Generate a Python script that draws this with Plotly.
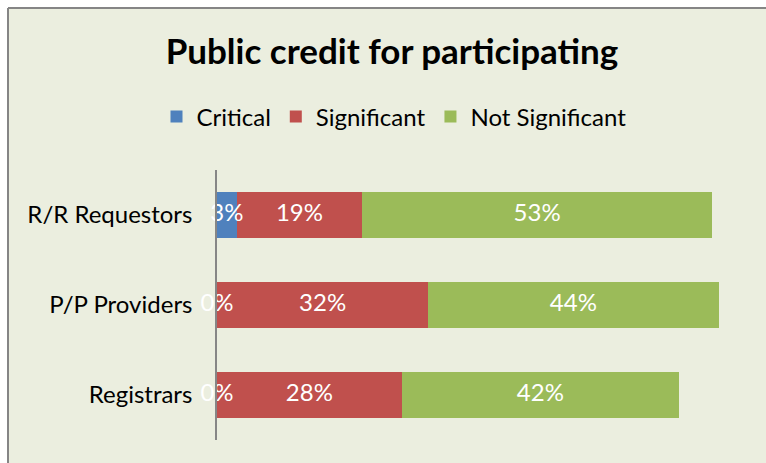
import plotly.graph_objects as go

categories = ["R/R Requestors", "P/P Providers", "Registrars"]
series_names = ["Critical", "Significant", "Not Significant"]
critical = [3, 0, 0]
significant = [19, 32, 28]
not_significant = [53, 44, 42]
colors = ["#4F81BD", "#C0504D", "#9BBB59"]

FONT = "Lato, Carlito, Calibri, sans-serif"
series_vals = [critical, significant, not_significant]

fig = go.Figure()
for name, vals, col in zip(series_names, series_vals, colors):
    fig.add_trace(go.Bar(
        name=name, y=categories, x=vals, orientation="h",
        marker=dict(color=col, line=dict(width=0)),
        hoverinfo="x+name",
    ))

# data labels centred in each segment
lx, ly, lt = [], [], []
for i, cat in enumerate(categories):
    start = 0
    for vals in series_vals:
        v = vals[i]
        lx.append(start + v / 2)
        ly.append(cat)
        lt.append(f"{v}%")
        start += v
fig.add_trace(go.Scatter(
    x=lx, y=ly, text=lt, mode="text", showlegend=False, cliponaxis=False,
    textfont=dict(family=FONT, size=24, color="white"),
    hoverinfo="skip",
))

# paper coordinate helpers for the chart frame
L, R, T, B = 217, 745, 170, 440
W, H = 766, 463
def px(x):
    return (x - L) / (R - L)
def py(y):
    return (B - y) / (B - T)

fig.add_shape(type="rect", xref="paper", yref="paper",
              x0=px(8), x1=px(W), y0=py(H), y1=py(8),
              fillcolor="#EBEEDF", line=dict(width=0),
              layer="below")
fig.add_shape(type="line", xref="paper", yref="paper",
              x0=px(8), x1=px(8), y0=py(H), y1=py(8),
              line=dict(color="#858585", width=2), layer="below")
fig.add_shape(type="line", xref="paper", yref="paper",
              x0=px(8), x1=px(W), y0=py(8), y1=py(8),
              line=dict(color="#858585", width=2), layer="below")

fig.update_layout(
    barmode="stack",
    bargap=0.49,
    width=W, height=H,
    margin=dict(l=L, r=W - R, t=T, b=H - B, autoexpand=False),
    paper_bgcolor="white",
    plot_bgcolor="rgba(0,0,0,0)",
    title=dict(text="<b>Public credit for participating</b>",
               x=392 / W, xanchor="center", y=1 - 52 / H, yanchor="middle",
               font=dict(family=FONT, size=35, color="black")),
    legend=dict(orientation="h", x=px(394), xanchor="center",
                y=py(117), yanchor="middle",
                font=dict(family=FONT, size=24, color="black"),
                bgcolor="rgba(0,0,0,0)", itemwidth=30, traceorder="normal"),
    xaxis=dict(visible=False, range=[0, 80]),
    yaxis=dict(autorange="reversed", showline=True, linecolor="#868686",
               linewidth=1.5, ticks="", showgrid=False,
               tickfont=dict(family=FONT, size=24, color="black"),
               ticklabelstandoff=18),
    showlegend=True,
)

fig.write_html("out.html", config={"displayModeBar": False},
               post_script="document.body.style.margin='0';document.body.style.padding='0';")
